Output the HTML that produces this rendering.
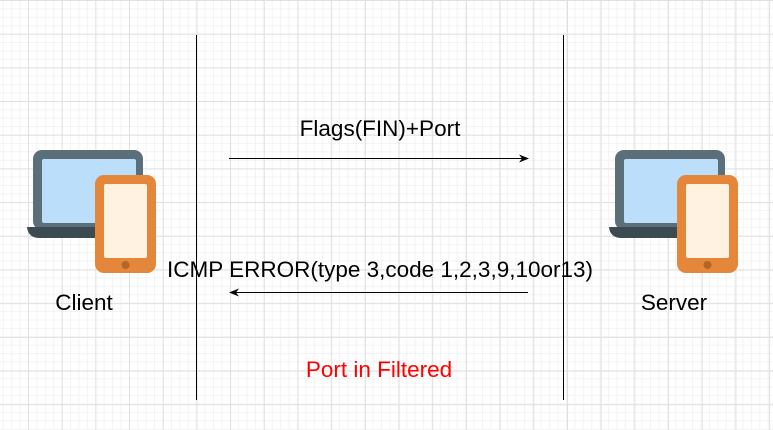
<!DOCTYPE html>
<html><head><style>
html,body{margin:0;padding:0}
body{width:773px;height:430px;overflow:hidden;position:relative;background:#fff;
background-image:
linear-gradient(#e0e0e0 1px,transparent 1px),
linear-gradient(90deg,#e0e0e0 1px,transparent 1px),
linear-gradient(#f3f3f3 1px,transparent 1px),
linear-gradient(90deg,#f3f3f3 1px,transparent 1px);
background-size:33.7px 33.7px,33.7px 33.7px,8.42px 8.42px,8.42px 8.42px;
background-position:0 0,28px 0,0 0,28px 0;
font-family:"Liberation Sans",sans-serif}
.t{position:absolute;font-size:22.5px;color:#000;white-space:nowrap;transform:translateX(-50%)}
</style></head><body>
<svg width="773" height="430" style="position:absolute;left:0;top:0">
<defs>
<marker id="a" markerWidth="10" markerHeight="8" refX="9" refY="4" orient="auto" markerUnits="userSpaceOnUse">
<path d="M0,0 L10,4 L0,8 L3,4 Z" fill="#000"/></marker>
<g id="dev">
<rect x="33" y="150" width="110" height="80" rx="9" fill="#5b6f7a"/>
<rect x="42" y="159" width="94" height="64" rx="2" fill="#bbdefb"/>
<path d="M27,227 H150 V238 H40 Q28,238 27,227 Z" fill="#3c4a52"/>
<rect x="95" y="175" width="61" height="98" rx="9" fill="#e5873a"/>
<rect x="104" y="184" width="43" height="74" rx="2" fill="#fff2e0"/>
<circle cx="125.5" cy="265" r="4" fill="#b5652a"/>
</g>
</defs>
<line x1="196.5" y1="35" x2="196.5" y2="400" stroke="#000" stroke-width="1"/>
<line x1="563.5" y1="35" x2="563.5" y2="400" stroke="#000" stroke-width="1"/>
<line x1="229" y1="158.5" x2="528" y2="158.5" stroke="#000" marker-end="url(#a)"/>
<line x1="528" y1="292.5" x2="230" y2="292.5" stroke="#000" marker-end="url(#a)"/>
<use href="#dev"/>
<use href="#dev" x="582"/>
</svg>
<div class="t" style="left:380px;top:116px">Flags(FIN)+Port</div>
<div class="t" style="left:380px;top:257px">ICMP ERROR(type 3,code 1,2,3,9,10or13)</div>
<div class="t" style="left:84px;top:290px">Client</div>
<div class="t" style="left:674px;top:290px">Server</div>
<div class="t" style="left:379px;top:357px;color:#ff0000">Port in Filtered</div>
</body></html>
